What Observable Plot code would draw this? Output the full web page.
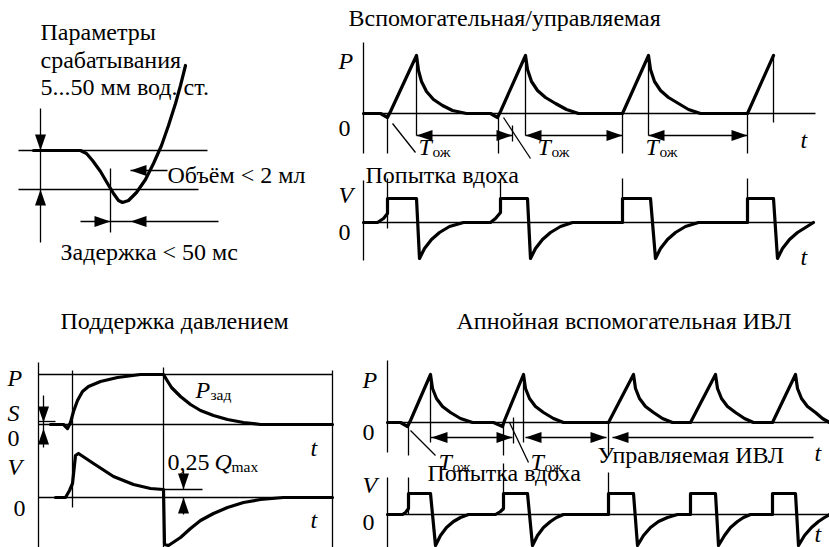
<!DOCTYPE html>
<html><head><meta charset="utf-8">
<script src="https://cdn.jsdelivr.net/npm/d3@7"></script>
<script src="https://cdn.jsdelivr.net/npm/@observablehq/plot@0.6"></script>
<style>body{margin:0;background:#fff;}</style>
</head><body>
<script>
// ---------- waveform data (schematic coordinates, px of the 829x547 sheet) ----------
const triggerCurve = [[33,150],[80,150],[86,153],[92,160],[100,171],[107,183],[113,193],[118,200],[122,202],[128,200],[136,192],[145,179],[153,163],[161,145],[168,125],[175,103],[180,85],[185,65]];

const acP = [[363,113],[380,113],[387,117],[390,111],[416,55],[418,70],[421,81],[426,91],[433,99],[442,105],[452,110],[466,113],[490,113],[497,117],[500,111],[525,55],[527,69],[531,81],[537,90],[545,97],[555,103],[566,109],[578,113],[622,113],[648,55],[650,69],[654,81],[660,90],[668,97],[678,103],[688,109],[700,113],[747,113],[773,55]];
const acV = [[363,222],[377,222],[383,218],[387,213],[387,198],[416,198],[419,258],[424,248],[431,239],[439,232],[449,226],[463,222],[490,222],[495,218],[500,212],[500,198],[527,198],[530,258],[535,248],[542,239],[550,232],[560,226],[572,222],[622,222],[622,198],[650,198],[655,258],[660,248],[667,239],[675,232],[685,226],[698,222],[747,222],[747,198],[773,198],[777,258],[782,248],[789,239],[797,232],[805,227],[813,222]];

const psP = [[50,424],[63,424],[67,428],[70,422],[73,411],[77,400],[82,391],[88,386],[100,381],[117,377],[140,374],[163,374],[166,379],[171,387],[180,396],[190,404],[200,410],[213,415],[227,419],[243,422],[260,424],[332,424]];
const psV = [[55,497],[65,497],[69,490],[72,483],[75,455],[78,453],[93,463],[113,476],[133,484],[150,488],[163,489],[164,544],[168,545],[180,537],[190,528],[200,520],[213,513],[227,507],[243,502],[260,499],[283,497],[332,497]];

const apP = [[387,422],[400,422],[407,426],[410,420],[430,374],[432,388],[436,398],[442,406],[450,412],[460,418],[472,422],[493,422],[502,426],[504,420],[523,374],[525,388],[529,398],[535,406],[543,412],[553,418],[563,422],[608,422],[633,374],[635,388],[639,398],[645,406],[653,412],[662,418],[672,422],[690,422],[715,374],[717,388],[721,398],[727,406],[735,412],[744,418],[753,422],[772,422],[795,374],[797,388],[801,398],[807,406],[815,412],[822,418],[829,422]];
const apV = [[387,514],[402,514],[405,512],[408,508],[408,493],[430,493],[435,545],[440,535],[446,527],[453,521],[460,517],[468,514],[495,514],[500,511],[503,508],[503,493],[527,493],[532,545],[537,535],[543,527],[550,521],[556,517],[563,514],[608,514],[608,493],[633,493],[637,545],[643,535],[650,527],[658,521],[667,517],[677,514],[690,514],[690,493],[715,493],[718,545],[724,535],[730,527],[737,521],[743,517],[750,514],[772,514],[772,493],[795,493],[798,545],[804,535],[811,527],[818,521],[824,517],[829,514]];

// thin construction lines [x1,y1,x2,y2]
const thinLines = [
  [18,150,207,150],[18,189,198,189],[40,108,40,242],[110,168,110,232],[80,221,218,221],[130,170,167,170],
  [363,42,363,153],[363,113,815,113],
  [387,113,387,153],[416,55,416,135],[498,113,498,153],[512,125,512,141],[525,55,525,135],[622,113,622,153],[648,55,648,135],[747,113,747,153],[773,55,773,122],
  [416,135,512,135],[525,135,622,135],[648,135,747,135],
  [392,123,415,152],[503,117,530,158],
  [363,180,363,260],[363,222,813,222],
  [387,178,387,228],[500,178,500,213],[622,178,622,222],[747,178,747,222],
  [38,362,38,547],[38,374,332,374],[332,370,332,547],[163,367,163,547],[72,370,72,507],
  [38,424,332,424],[38,497,332,497],[38,421,55,421],
  [43,395,43,447],[163,489,202,489],[183,470,183,489],[183,497,183,514],
  [387,360,387,452],[387,422,829,422],
  [408,422,408,455],[430,374,430,442],[503,422,503,455],[513,417,513,443],[523,374,523,442],[608,422,608,455],
  [430,437,512,437],[525,437,606,437],[612,437,813,437],
  [410,430,435,455],[509,422,528,462],
  [387,477,387,547],[387,514,829,514],
  [408,477,408,514],[503,463,503,510],[608,472,608,514]
];

// arrowheads: tip position and direction
const arrowHeads = [
  {x:40,y:150,d:"down"},{x:40,y:189,d:"up"},{x:110,y:221,d:"right"},{x:130,y:221,d:"left"},{x:130,y:170,d:"left"},
  {x:416,y:135,d:"left"},{x:512,y:135,d:"right"},{x:525,y:135,d:"left"},{x:622,y:135,d:"right"},{x:648,y:135,d:"left"},{x:747,y:135,d:"right"},
  {x:43,y:422,d:"down"},{x:43,y:428,d:"up"},{x:183,y:489,d:"down"},{x:183,y:497,d:"up"},
  {x:431,y:437,d:"left"},{x:512,y:437,d:"right"},{x:525,y:437,d:"left"},{x:606,y:437,d:"right"},{x:612,y:437,d:"left"}
];

// texts
const romanTexts = [
  {x:40,y:32,t:"Параметры"},{x:40,y:60,t:"срабатывания"},{x:40,y:87,t:"5...50 мм вод. ст."},
  {x:167,y:175,t:"Объём < 2 мл"},{x:60,y:252,t:"Задержка < 50 мс"},
  {x:348,y:18,t:"Вспомогательная/управляемая"},
  {x:338,y:128,t:"0"},{x:365,y:175,t:"Попытка вдоха"},{x:338,y:232,t:"0"},
  {x:60,y:321,t:"Поддержка давлением"},{x:7,y:438,t:"0"},{x:13,y:508,t:"0"},{x:167,y:462,t:"0,25"},
  {x:456,y:321,t:"Апнойная вспомогательная ИВЛ"},{x:362,y:432,t:"0"},{x:597,y:455,t:"Управляемая ИВЛ"},
  {x:427,y:473,t:"Попытка вдоха"},{x:362,y:522,t:"0"}
];
const italicTexts = [
  {x:338,y:61,t:"P"},{x:800,y:140,t:"t"},{x:338,y:195,t:"V"},{x:800,y:257,t:"t"},
  {x:7,y:378,t:"P"},{x:7,y:413,t:"S"},{x:7,y:467,t:"V"},{x:195,y:390,t:"P"},{x:310,y:448,t:"t"},{x:214,y:462,t:"Q"},{x:310,y:520,t:"t"},
  {x:362,y:380,t:"P"},{x:362,y:485,t:"V"},{x:814,y:453,t:"t"},{x:814,y:534,t:"t"},
  {x:418,y:147,t:"T"},{x:537,y:147,t:"T"},{x:645,y:147,t:"T"},{x:438,y:462,t:"T"},{x:530,y:462,t:"T"}
];
const subTexts = [
  {x:432,y:152,t:"ож"},{x:551,y:152,t:"ож"},{x:659,y:152,t:"ож"},{x:452,y:467,t:"ож"},{x:544,y:467,t:"ож"},
  {x:210,y:395,t:"зад"},{x:231,y:467,t:"max"}
];

const rot = {up:0,right:90,down:180,left:270};
const headSymbol = {draw(ctx){ctx.moveTo(0,0);ctx.lineTo(-5.5,16);ctx.lineTo(5.5,16);ctx.closePath();}};
const FONT = "Liberation Serif";
const curves = [triggerCurve, acP, acV, psP, psV, apP, apV];
const X = d => d[0], Y = d => d[1];

const chart = Plot.plot({
  width: 829, height: 547, margin: 0,
  x: {domain:[0,829], range:[0,829], axis:null},
  y: {domain:[0,547], range:[0,547], axis:null},
  marks: [
    Plot.link(thinLines, {x1:d=>d[0], y1:d=>d[1], x2:d=>d[2], y2:d=>d[3], stroke:"black", strokeWidth:1.3}),
    ...curves.map(c => Plot.line(c, {x:X, y:Y, stroke:"black", strokeWidth:3.2, strokeLinejoin:"round", strokeLinecap:"round"})),
    Plot.dot(arrowHeads, {x:"x", y:"y", symbol: headSymbol, rotate: d => rot[d.d], fill:"black", stroke:"none", r:5}),
    Plot.text(romanTexts, {x:"x", y:"y", text:"t", textAnchor:"start", lineAnchor:"middle", fontFamily:FONT, fontSize:24, fill:"black"}),
    Plot.text(italicTexts, {x:"x", y:"y", text:"t", textAnchor:"start", lineAnchor:"middle", fontFamily:FONT, fontStyle:"italic", fontSize:24, fill:"black"}),
    Plot.text(subTexts, {x:"x", y:"y", text:"t", textAnchor:"start", lineAnchor:"middle", fontFamily:FONT, fontSize:15.5, fill:"black"})
  ]
});
document.body.appendChild(chart);
</script>
</body></html>
